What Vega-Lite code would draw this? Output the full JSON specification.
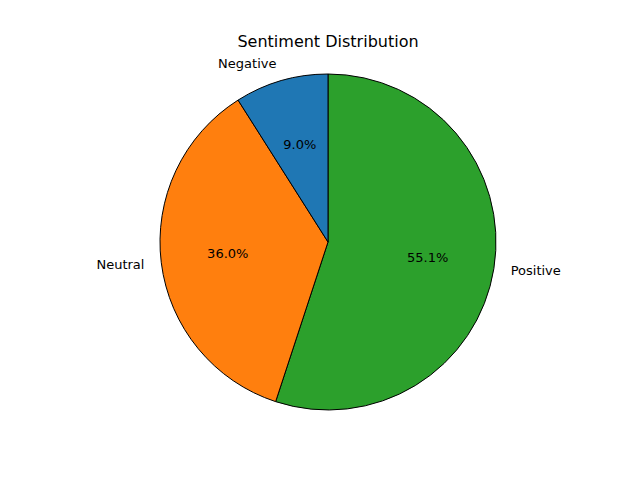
{
  "$schema": "https://vega.github.io/schema/vega-lite/v6.json",
  "autosize": "none",
  "width": 656,
  "height": 384,
  "padding": {"top": 50, "left": 0, "right": 0, "bottom": 46},
  "title": {"text": "Sentiment Distribution", "font": "DejaVu Sans", "fontSize": 16, "fontWeight": "normal", "color": "black", "offset": 0},
  "data": {"values": [
    {"category": "Positive", "value": 55.1, "label": "55.1%", "ord": 1},
    {"category": "Neutral", "value": 36.0, "label": "36.0%", "ord": 2},
    {"category": "Negative", "value": 9.0, "label": "9.0%", "ord": 3}
  ]},
  "encoding": {
    "theta": {"field": "value", "type": "quantitative", "stack": true},
    "order": {"field": "ord", "type": "quantitative"}
  },
  "layer": [
    {
      "mark": {"type": "arc", "outerRadius": 168, "stroke": "black", "strokeWidth": 1},
      "encoding": {
        "color": {"field": "category", "type": "nominal", "legend": null,
          "scale": {"domain": ["Negative", "Neutral", "Positive"], "range": ["#1f77b4", "#ff7f0e", "#2ca02c"]}}
      }
    },
    {
      "mark": {"type": "text", "radius": 101, "font": "DejaVu Sans", "fontSize": 13, "color": "black"},
      "encoding": {"text": {"field": "label"}}
    },
    {
      "mark": {"type": "text", "radius": 185, "font": "DejaVu Sans", "fontSize": 13, "color": "black", "align": "right"},
      "encoding": {"text": {"field": "category"}, "opacity": {"condition": {"test": "datum.category !== 'Positive'", "value": 1}, "value": 0}}
    },
    {
      "mark": {"type": "text", "radius": 185, "font": "DejaVu Sans", "fontSize": 13, "color": "black", "align": "left"},
      "encoding": {"text": {"field": "category"}, "opacity": {"condition": {"test": "datum.category === 'Positive'", "value": 1}, "value": 0}}
    }
  ],
  "config": {"view": {"stroke": null}}
}
